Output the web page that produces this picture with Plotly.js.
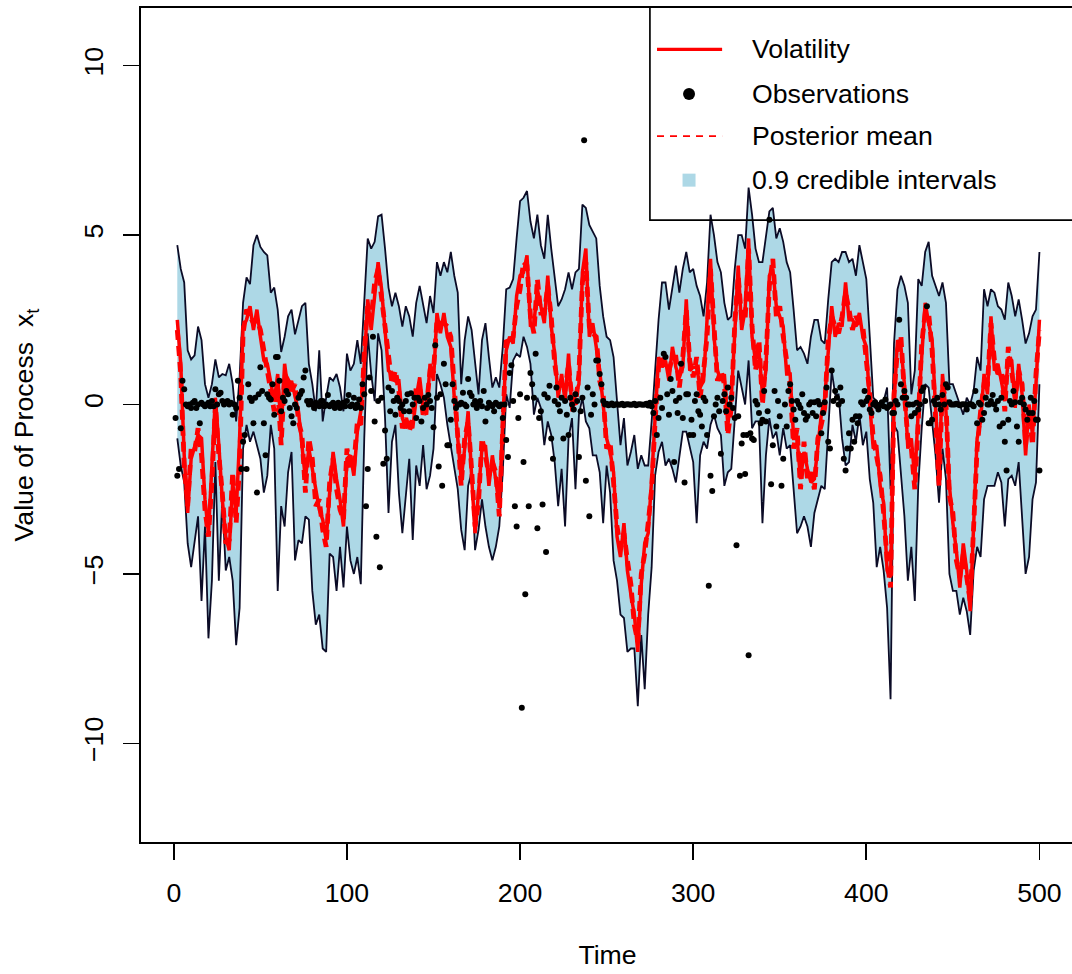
<!DOCTYPE html>
<html><head><meta charset="utf-8">
<script src="https://cdn.plot.ly/plotly-3.0.1.min.js"></script>
<style>html,body{margin:0;padding:0;overflow:hidden;background:#fff}#chart{width:1080px;height:974px}</style>
</head><body><div id="chart"></div><script>
// Band / mean / truth sampled at every second time step (t = 2,4,...,500)
const upperBound = [
4.7,4.0,3.6,1.6,1.33,1.45,2.3,1.9,0.6,0.2,
0.6,1.33,0.8,0.9,0.86,1.2,0.6,-0.5,0.8,3.0,
3.75,3.55,4.7,5.0,4.65,4.5,4.4,3.3,3.45,2.8,
1.55,2.0,2.6,2.8,2.07,2.5,2.9,3.0,1.2,0.6,
-0.2,1.6,-0.5,0.2,0.8,0.7,0.9,0.5,-0.2,1.5,
1.0,1.2,1.9,1.2,2.9,4.9,4.6,4.8,5.55,5.6,
4.6,3.45,2.9,3.3,2.9,2.3,2.9,2.6,2.0,3.0,
3.5,2.9,2.4,3.2,2.7,4.2,3.8,4.2,3.9,4.5,
3.8,3.3,0.6,1.9,2.6,2.2,1.3,0.3,1.9,2.4,
1.4,0.5,0.8,0.5,1.7,3.4,3.45,3.7,4.9,6.0,
6.1,6.3,5.4,4.9,5.6,4.7,4.3,5.6,4.6,3.7,
2.9,3.1,3.4,3.9,3.4,3.9,4.0,5.9,5.8,5.3,
5.1,4.9,3.5,2.6,2.0,1.9,1.4,0.0,-1.2,-0.4,
-1.8,-1.4,-0.9,-1.9,-1.5,-1.8,-1.8,-0.5,1.0,2.5,
3.6,3.6,2.8,3.5,4.1,3.3,4.0,4.5,3.9,4.0,
3.5,3.2,2.6,3.6,5.6,5.0,4.2,3.9,3.0,2.5,
2.6,4.0,5.0,5.0,4.6,6.4,5.6,4.6,4.2,4.2,
5.0,5.7,5.8,4.9,5.2,4.8,4.2,3.9,2.8,1.6,
1.7,1.5,1.2,2.0,2.5,2.5,1.9,1.8,3.1,4.2,
4.3,4.2,4.5,4.5,4.2,4.3,3.8,4.7,4.2,3.7,
2.0,0.2,0.1,-0.1,0.1,0.5,-2.5,1.8,3.4,3.8,
3.5,3.0,0.3,1.0,3.7,3.5,4.5,4.8,3.8,3.5,
3.2,3.6,3.0,0.6,0.6,0.3,0.0,-0.3,0.2,0.0,
0.4,1.4,1.0,3.4,2.9,3.4,3.3,2.9,2.8,2.5,
3.6,3.2,2.6,3.1,2.5,1.8,2.1,2.6,2.8,4.5];

const lowerBound = [
-1.0,-1.8,-2.3,-4.1,-4.8,-4.1,-3.3,-5.8,-3.6,-6.9,
-5.2,-1.7,-5.2,-2.8,-4.9,-4.5,-5.2,-7.1,-6.0,-1.3,
-0.6,-1.1,-0.8,-1.2,-1.6,-2.6,-2.1,-0.6,-1.3,-5.5,
-3.0,-3.6,-2.0,-1.4,-4.6,-4.0,-4.1,-3.3,-3.4,-5.5,
-6.5,-6.2,-7.2,-7.3,-4.4,-4.5,-5.5,-4.2,-5.4,-3.6,
-4.6,-5.0,-4.5,-5.3,-1.0,2.1,0.9,0.1,2.1,1.6,
-0.4,-3.2,-1.1,-0.6,-2.6,-3.8,-2.6,-1.6,-4.0,-1.8,
-2.4,-1.2,-2.5,-2.1,-1.3,0.9,0.6,0.2,-0.6,-1.2,
-1.8,-2.5,-3.7,-4.3,-2.4,-2.0,-4.3,-3.7,-2.8,-3.6,
-4.2,-4.6,-4.2,-3.6,-2.0,0.3,-0.1,1.3,1.5,1.4,
2.0,1.7,1.2,-0.3,0.2,-0.1,-1.2,-0.5,-0.9,-1.7,
-3.0,-1.9,-3.6,-1.0,-0.4,-2.5,-0.3,0.2,-0.5,-0.7,
-1.5,-1.5,-2.0,-3.5,-1.8,-2.6,-4.6,-5.2,-6.2,-6.3,
-7.3,-7.2,-7.2,-8.9,-6.8,-8.4,-6.2,-4.8,-2.1,-1.4,
-1.1,-1.8,-1.6,-1.9,-2.3,-1.5,-0.8,-0.8,-1.3,-1.7,
-3.5,-1.5,-1.1,-1.3,-0.6,-0.3,-0.7,-0.9,-2.4,-2.0,
-1.9,-0.5,1.0,0.5,0.0,1.3,-0.7,-0.5,-0.5,-3.5,
-1.5,-0.4,-1.0,-0.8,-1.5,-0.7,-1.3,-1.2,-2.4,-3.8,
-3.6,-3.3,-3.6,-4.2,-3.2,-2.8,-2.4,-2.5,-0.7,1.0,
0.3,0.3,-1.0,-1.8,-1.7,-0.6,-1.1,-0.3,-1.2,-0.8,
-2.2,-2.9,-4.8,-4.2,-4.9,-6.0,-8.7,-0.6,-0.8,-2.1,
-3.3,-5.2,-4.2,-5.8,-2.4,-0.7,0.6,0.5,-0.5,-1.5,
-2.9,-1.3,-2.2,-5.0,-5.5,-5.5,-6.2,-5.7,-6.1,-6.8,
-4.9,-4.2,-4.5,-2.8,-2.4,-2.4,-2.4,-2.0,-2.3,-3.6,
-2.2,-2.1,-2.4,-1.7,-3.2,-5.0,-4.5,-2.8,-2.3,0.6];

const posteriorMean = [
2.2,0.9,-1.8,-3.0,-1.3,-1.4,-0.7,-1.5,-3.1,-3.9,
-2.3,0.0,-1.5,-2.6,-4.1,-4.0,-2.0,-3.5,-1.8,2.1,
2.8,2.6,2.4,2.5,2.2,1.6,0.9,0.4,-0.2,0.5,
-1.2,0.9,0.7,0.4,0.6,-0.5,-0.9,-2.6,-1.0,-1.6,
-3.0,-2.8,-3.7,-4.2,-2.3,-1.6,-2.5,-3.1,-3.4,-1.3,
-1.9,-1.8,-0.5,-0.6,1.5,2.9,2.5,3.6,4.0,3.1,
2.5,1.3,0.6,1.0,0.4,-0.7,-0.4,-0.8,-0.4,0.5,
0.5,-0.3,0.0,1.0,1.0,2.5,2.4,2.4,2.3,2.0,
0.5,-0.6,-2.4,-1.0,-0.5,-1.9,-3.6,-2.9,-1.0,-1.5,
-2.1,-1.7,-2.0,-3.3,-0.8,1.9,1.8,2.0,2.9,3.4,
4.2,4.1,2.6,2.1,3.7,2.7,2.7,3.5,2.6,1.2,
0.5,0.6,0.4,1.2,0.1,0.0,0.9,3.6,4.2,2.3,
2.1,2.0,0.7,0.3,-1.3,-1.1,-2.3,-3.6,-4.2,-3.8,
-4.6,-5.3,-6.5,-7.0,-5.0,-4.4,-3.5,-2.5,-0.5,1.1,
1.4,1.0,1.0,1.4,1.4,0.5,1.4,2.8,1.3,0.8,
1.4,0.2,1.0,2.0,4.0,2.3,0.7,1.0,0.6,-0.9,
-0.1,2.4,3.8,2.5,2.5,4.6,2.3,1.0,1.9,0.0,
1.3,3.5,4.3,2.6,2.9,2.0,1.2,0.6,-1.3,-0.7,
-2.5,-1.1,-2.2,-2.0,-2.5,-1.0,-0.6,-0.1,1.9,2.6,
2.3,2.1,2.6,3.3,2.8,2.2,2.6,2.4,2.3,1.4,
0.3,-1.0,-1.5,-2.1,-3.2,-4.6,-5.4,0.3,1.6,2.0,
0.3,-1.0,-1.3,-2.5,-0.5,1.8,2.7,2.7,1.6,-0.4,
-2.4,0.6,0.1,-2.7,-3.2,-4.6,-5.1,-4.4,-5.2,-5.8,
-3.6,-1.3,-0.2,0.6,0.6,2.4,1.3,0.9,1.0,-0.2,
1.7,1.0,0.2,1.0,0.6,-1.2,-0.3,-1.2,0.9,2.2];

const volatility = [
2.5,1.2,-1.5,-3.2,-1.6,-1.2,-0.9,-1.0,-2.8,-3.8,
-2.0,0.2,-1.2,-2.8,-3.9,-4.3,-2.3,-3.2,-1.0,2.3,
2.5,2.9,2.2,2.8,2.0,1.3,1.2,0.6,0.1,0.9,
-0.8,1.2,0.4,0.7,0.3,-0.2,-1.2,-2.2,-1.3,-1.9,
-2.6,-3.1,-3.4,-4.0,-2.6,-1.4,-2.2,-2.8,-3.6,-1.6,
-1.5,-2.1,-0.8,-0.2,1.2,3.1,2.2,3.3,4.2,3.4,
2.2,1.0,0.9,0.7,0.7,-0.4,-0.7,-0.5,-0.7,0.2,
0.8,-0.1,-0.3,1.2,0.7,2.7,2.1,2.7,2.0,1.7,
0.2,-0.9,-2.2,-1.3,-0.2,-2.1,-3.8,-2.6,-1.3,-1.2,
-2.4,-1.5,-2.3,-3.0,-0.5,1.6,2.0,1.8,3.2,3.8,
3.9,4.4,2.3,2.4,3.4,2.9,2.4,3.8,2.3,1.5,
0.2,0.9,0.1,1.5,-0.2,0.3,0.6,3.9,4.6,2.0,
2.4,1.7,1.0,0.0,-1.0,-1.4,-2.0,-3.9,-4.5,-3.5,
-4.9,-5.6,-6.2,-7.3,-5.3,-4.1,-3.8,-2.2,-0.2,1.4,
1.1,1.3,0.7,1.7,1.1,0.8,1.1,3.1,1.0,1.1,
1.1,0.5,0.7,2.3,4.3,2.0,1.0,0.7,0.9,-0.6,
0.2,2.1,4.1,2.2,2.8,4.9,2.0,1.3,1.6,0.3,
1.0,3.8,4.0,2.9,2.6,2.3,0.9,0.9,-1.0,-1.0,
-2.2,-1.4,-1.9,-2.3,-2.2,-1.3,-0.3,0.2,1.6,2.9,
2.0,2.4,2.3,3.6,2.5,2.5,2.3,2.7,2.0,1.7,
0.0,-1.3,-1.2,-2.4,-2.9,-4.9,-5.1,0.0,1.9,1.7,
0.6,-1.3,-1.0,-2.2,-0.2,1.5,3.0,2.4,1.9,-0.1,
-2.1,0.9,-0.2,-2.4,-3.5,-4.3,-5.4,-4.1,-4.9,-6.1,
-3.3,-1.0,-0.5,0.9,0.3,2.6,1.0,1.2,0.7,0.1,
1.4,1.3,-0.1,1.2,0.3,-1.5,0.0,-0.9,0.6,2.5];

// Observations at every time step t = 1..500
const observations = [
-0.4,-2.1,-1.9,-0.7,0.7,0.45,0.0,-0.05,0.0,-0.1,
0.05,0.1,-0.1,0.0,-0.55,0.05,0.0,-0.05,0.0,0.05,
-0.05,0.1,-0.05,0.45,0.0,0.3,0.35,0.1,0.0,0.05,
0.1,0.0,0.05,-0.3,0.0,-0.1,0.7,0.2,-1.9,-1.1,
-0.9,-1.9,0.6,0.2,0.1,-0.55,0.2,-2.6,0.3,1.1,
0.4,-0.55,-1.5,0.3,0.2,0.15,0.6,-0.3,1.4,1.4,
0.7,-0.2,0.2,0.1,0.4,0.3,-0.1,-0.35,-0.55,0.0,
-0.1,0.2,0.3,0.4,0.8,1.0,0.1,0.0,0.1,0.0,
-0.1,0.05,0.0,-0.05,0.1,0.1,-0.05,0.0,0.28,-0.05,
0.0,0.05,-0.1,0.0,0.05,-0.1,0.0,0.05,-0.05,0.1,
0.28,-0.05,0.0,0.2,-0.1,0.0,0.15,-0.1,0.6,0.3,
-3.0,-1.9,0.8,0.4,2.0,-0.5,-3.9,0.1,-4.8,0.2,
-1.75,-0.77,-1.6,0.5,-0.2,0.4,0.1,-0.3,0.2,0.1,
-0.1,0.0,-0.2,0.1,0.3,-0.2,0.33,0.0,0.2,-0.4,
0.2,0.1,-0.5,-0.1,0.2,0.0,0.28,0.1,-0.1,-0.67,
1.75,0.2,-1.83,0.3,-2.4,1.2,0.6,-1.2,-1.2,-0.45,
0.6,0.1,-0.1,0.0,0.0,0.05,0.35,0.0,-0.05,0.75,
0.35,0.25,0.0,0.1,-0.1,0.0,0.1,-0.05,0.4,-0.5,
-0.1,0.05,0.0,-0.05,-0.2,0.05,0.0,-0.05,0.0,-0.4,
0.0,-1.05,-1.55,0.93,1.16,0.1,-3.0,-3.6,-0.4,0.3,
-8.95,-1.7,-5.6,0.2,-3.0,0.93,0.6,0.2,1.5,-3.65,
-0.4,-0.2,-2.95,0.3,-4.35,0.2,0.55,-1.0,-1.6,0.1,
0.5,0.0,-0.2,0.2,-1.0,0.1,-0.3,-0.9,0.2,0.0,
-0.15,0.3,0.1,-1.55,-0.2,0.2,7.8,-2.25,0.5,-3.3,
-0.3,0.3,0.0,1.3,1.3,0.9,0.6,0.1,0.0,0.02,
-0.02,0.0,0.03,-0.02,0.0,0.01,-0.01,0.0,0.02,-0.02,
0.0,0.01,0.0,-0.01,0.0,0.02,-0.02,0.0,0.01,0.0,
-0.01,0.0,0.02,-0.03,0.05,-0.05,-0.25,0.1,-0.9,-0.4,
0.2,-0.1,1.5,1.4,0.3,-0.3,0.75,0.4,-1.7,0.1,
-0.25,0.2,1.2,-0.4,-2.3,0.3,0.3,-0.9,-0.45,-0.9,
0.1,0.3,-0.2,-0.3,-0.65,0.2,0.1,-0.9,-5.35,-2.1,
-2.55,-0.35,0.0,0.2,-0.2,-1.45,0.1,0.3,-0.2,0.5,
0.0,0.2,-0.1,-0.4,-4.15,-0.35,-2.1,-1.15,-0.9,-2.05,
-0.9,-7.4,-0.85,-1.0,-1.05,0.1,0.0,-0.25,-0.55,-0.45,
0.4,-0.5,-0.2,5.45,-2.35,-1.2,0.4,-0.65,0.1,-0.35,
-2.4,-1.6,0.0,-0.65,0.4,0.6,0.1,-0.15,-0.45,0.1,
0.0,-0.1,0.3,-0.25,-0.45,-0.35,0.0,0.07,-0.25,0.07,
-0.35,0.1,0.0,-0.85,-0.25,0.07,0.5,-1.1,-1.3,1.0,
0.1,0.4,0.2,0.0,0.5,0.1,-1.6,-1.95,-1.3,-0.85,
-1.3,-0.45,-1.1,-0.35,-0.55,-0.35,0.07,0.0,0.4,0.1,
0.2,-0.15,-0.25,0.0,0.07,-0.05,-0.15,0.0,0.07,-0.05,
0.15,-0.1,-0.05,0.0,-0.25,-0.25,0.1,0.0,2.5,0.6,
0.2,0.4,0.2,0.0,0.0,-0.35,0.0,-0.25,0.05,-0.15,
0.0,0.4,0.5,0.1,2.9,-0.55,-0.55,-0.45,0.1,0.0,
0.2,0.0,-0.15,0.28,0.0,0.6,0.5,0.07,0.0,0.0,
0.0,0.02,0.0,-0.02,0.0,0.01,0.0,-0.15,0.0,0.01,
0.0,-0.05,0.4,-0.55,0.05,0.0,-0.45,-0.25,0.2,0.0,
0.0,0.1,0.28,0.0,-0.15,0.1,-0.65,0.2,-0.55,-1.1,
-1.95,-0.45,0.1,0.0,0.4,0.07,-0.65,-1.1,0.07,0.2,
0.0,-0.15,-0.45,-0.25,0.2,-0.25,0.1,-0.45,-0.45,-1.95];

const xTicks = [0, 100, 200, 300, 400, 500];
const yTicks = [-10, -5, 0, 5, 10];
const legendLabels = ["Volatility", "Observations", "Posterior mean", "0.9 credible intervals"];

// time indices
const bandTime = upperBound.map((_, i) => 2 * (i + 1));
const obsTime = observations.map((_, i) => i + 1);

const FONT = "Liberation Sans, Arial, Helvetica, sans-serif";
const FS = 26.67;
const edge = "#0b0b26";

const traces = [
  {x: bandTime, y: lowerBound, mode: "lines", line: {color: edge, width: 1.8}, showlegend: false, hoverinfo: "skip"},
  {x: bandTime, y: upperBound, mode: "lines", fill: "tonexty", fillcolor: "#ADD8E6", line: {color: edge, width: 1.8}, showlegend: false, hoverinfo: "skip"},
  {x: bandTime, y: volatility, mode: "lines", line: {color: "#FF0000", width: 3.5}, showlegend: false},
  {x: bandTime, y: posteriorMean, mode: "lines", line: {color: "#FF0000", width: 4.8, dash: "10px,6px"}, showlegend: false},
  {x: obsTime, y: observations, mode: "markers", marker: {color: "#000000", size: 6}, showlegend: false}
];

// legend drawn in data coordinates (top-right box)
const lgLeft = 275.0, lgBottom = 5.44;
const lgLineX0 = 279.1, lgLineX1 = 316.7, lgSymX = 297.6, lgTextX = 332.8;
const lgRows = [10.48, 9.16, 7.92, 6.62];

const shapes = [
  {type: "rect", xref: "x", yref: "y", x0: lgLeft, x1: 560, y0: lgBottom, y1: 20, line: {color: "#000", width: 1.67}, fillcolor: "rgba(0,0,0,0)", layer: "above"},
  {type: "line", xref: "x", yref: "y", x0: lgLineX0, x1: lgLineX1, y0: lgRows[0], y1: lgRows[0], line: {color: "#FF0000", width: 3.3}},
  {type: "circle", xref: "x", yref: "y", xsizemode: "pixel", ysizemode: "pixel", xanchor: lgSymX, yanchor: lgRows[1], x0: -6, x1: 6, y0: -6, y1: 6, fillcolor: "#000", line: {width: 0}},
  {type: "line", xref: "x", yref: "y", x0: lgLineX0, x1: lgLineX1, y0: lgRows[2], y1: lgRows[2], line: {color: "#FF0000", width: 1.67, dash: "7px,6px"}},
  {type: "rect", xref: "x", yref: "y", xsizemode: "pixel", ysizemode: "pixel", xanchor: lgSymX, yanchor: lgRows[3], x0: -6.5, x1: 6.5, y0: -6.5, y1: 6.5, fillcolor: "#ADD8E6", line: {width: 0}}
];

const annotations = legendLabels.map((t, i) => ({
  text: t, x: lgTextX, y: lgRows[i], xref: "x", yref: "y", xanchor: "left", yanchor: "middle",
  showarrow: false, font: {family: FONT, size: FS, color: "#000"}
}));

const layout = {
  width: 1080, height: 974,
  margin: {l: 141, r: 6, t: 8, b: 132},
  paper_bgcolor: "#fff", plot_bgcolor: "#fff",
  font: {family: FONT, size: FS, color: "#000"},
  showlegend: false,
  xaxis: {
    range: [-18.96, 519.96], tickvals: xTicks, ticktext: xTicks.map(String),
    ticks: "outside", ticklen: 16, tickwidth: 1.67, tickcolor: "#000",
    showline: true, mirror: true, linecolor: "#000", linewidth: 1.67,
    showgrid: false, zeroline: false, ticklabelstandoff: 10,
    tickfont: {family: FONT, size: FS, color: "#000"},
    title: {text: "Time", font: {family: FONT, size: FS, color: "#000"}, standoff: 38}
  },
  yaxis: {
    range: [-12.91, 11.70], tickvals: yTicks,
    ticks: "outside", ticklen: 16, tickwidth: 1.67, tickcolor: "#000",
    showline: true, mirror: true, linecolor: "#000", linewidth: 1.67,
    showgrid: false, zeroline: false, tickangle: -90, ticklabelstandoff: 10,
    tickfont: {family: FONT, size: FS, color: "#000"},
    title: {text: "Value of Process  x<sub>t</sub>", font: {family: FONT, size: FS, color: "#000"}, standoff: 37}
  },
  shapes: shapes,
  annotations: annotations
};

Plotly.newPlot("chart", traces, layout, {staticPlot: true, displayModeBar: false});
</script></body></html>
